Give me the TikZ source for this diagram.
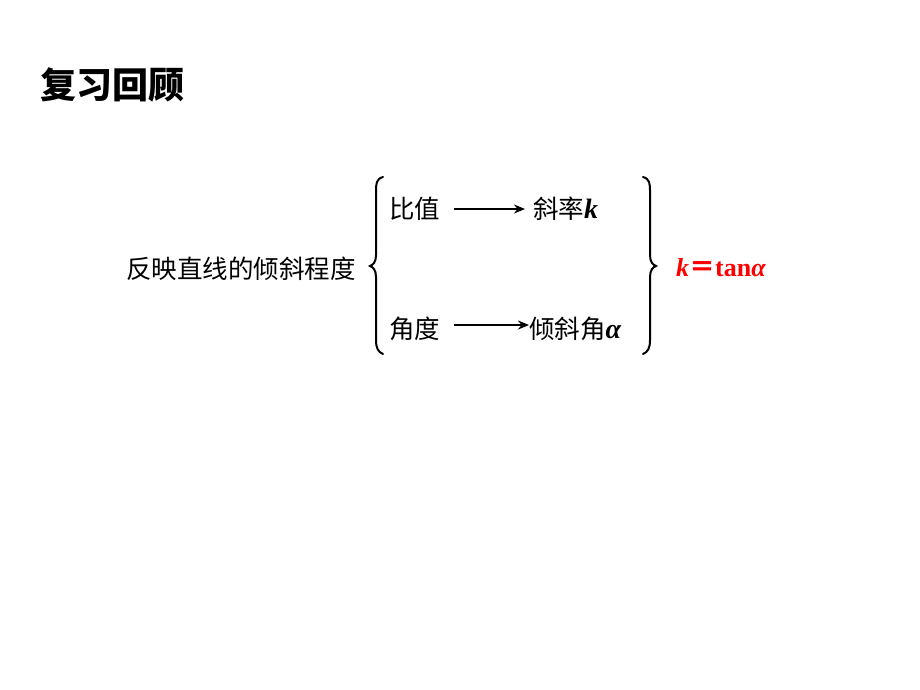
\documentclass[tikz,border=0pt]{standalone}
\usepackage{fontspec}
\setmainfont{Liberation Serif}
\newfontfamily\cjk{Noto Sans CJK SC}
\newcommand{\mvar}[1]{{\rmfamily\bfseries\itshape\fontsize{28pt}{28pt}\selectfont #1}}
\usetikzlibrary{arrows.meta}
\definecolor{myred}{RGB}{255,0,0}
\begin{document}
\begin{tikzpicture}[x=1pt,y=-1pt,
  txt/.style={inner sep=0pt,anchor=west,font=\cjk\fontsize{25.5pt}{25.5pt}\selectfont},
  brace/.style={line width=2pt,line cap=round},
  arr/.style={line width=1.7pt,-{Stealth[length=11pt,width=9pt,inset=3.5pt]}}]
\useasboundingbox (0,0) rectangle (920,690);
\node[inner sep=0pt,anchor=west,font=\cjk\bfseries\fontsize{36pt}{36pt}\selectfont] (title) at (40,85) {复习回顾};
\node[txt] (main) at (126,269) {反映直线的倾斜程度};
\node[txt] (bz) at (389,209) {比值};
\node[txt] (xl) at (533,209) {斜率\mvar{k}};
\node[txt] (jd) at (389,329) {角度};
\node[txt] (qxj) at (529,329) {倾斜角\mvar{α}};
\node[inner sep=0pt,anchor=west,text=myred,font=\rmfamily\bfseries\fontsize{26pt}{26pt}\selectfont] (eq) at (676,268) {\textit{k}{\cjk\bfseries ＝}tan\textit{α}};
\draw[arr] (bz.east) ++(14,0) coordinate (a1) -- (xl.west -| 525,0);
\draw[arr] (454,325) -- (qxj.west |- 0,325);
% left brace
\draw[brace] (383,177) .. controls (376,179) and (376,184) .. (376,192)
  -- (376,255) .. controls (376,262) and (373,265) .. (370,266)
  .. controls (373,267) and (376,270) .. (376,277)
  -- (376,340) .. controls (376,348) and (378,352) .. (383,354);
% right brace
\draw[brace] (643,177) .. controls (650,179) and (650,184) .. (650,192)
  -- (650,255) .. controls (650,262) and (653,265) .. (656,266)
  .. controls (653,267) and (650,270) .. (650,277)
  -- (650,340) .. controls (650,348) and (648,352) .. (643,354);
\end{tikzpicture}
\end{document}
